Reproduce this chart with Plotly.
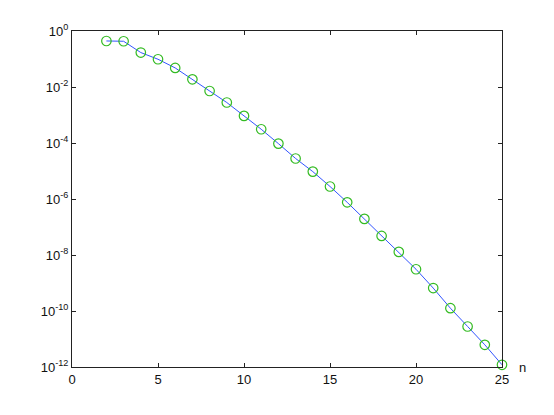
import plotly.graph_objects as go

# n and the plotted quantity
n = list(range(2, 26))
values = [
    0.44, 0.43, 0.17, 0.098, 0.048, 0.0188, 0.0072, 0.00279, 9.3e-4, 3.1e-4,
    9.5e-5, 2.8e-5, 9.5e-6, 2.8e-6, 7.6e-7, 1.95e-7, 4.8e-8, 1.29e-8,
    3.1e-9, 6.6e-10, 1.26e-10, 2.8e-11, 6.2e-12, 1.2e-12,
]

x_ticks = [0, 5, 10, 15, 20, 25]
y_ticks = [1e0, 1e-2, 1e-4, 1e-6, 1e-8, 1e-10, 1e-12]
y_ticktext = ["10<sup>0</sup>", "10<sup>-2</sup>", "10<sup>-4</sup>", "10<sup>-6</sup>",
              "10<sup>-8</sup>", "10<sup>-10</sup>", "10<sup>-12</sup>"]

fig = go.Figure()

fig.add_trace(go.Scatter(
    x=n, y=values,
    mode="lines",
    line=dict(color="#3355ff", width=1),
    hoverinfo="skip",
    cliponaxis=False,
))
fig.add_trace(go.Scatter(
    x=n, y=values,
    mode="markers",
    marker=dict(symbol="circle-open", size=9.5, color="#33bb22", line=dict(width=1.2)),
    cliponaxis=False,
))

axis_style = dict(
    showline=True, linecolor="#222222", linewidth=1, mirror="ticks",
    ticks="inside", ticklen=4, tickcolor="#222222",
    showgrid=False, zeroline=False,
    tickfont=dict(family="Liberation Sans, Arial, sans-serif", size=13, color="#111111"),
)

fig.update_xaxes(range=[0, 25], tickvals=x_ticks, **axis_style)
fig.update_yaxes(type="log", range=[-12, 0], tickvals=y_ticks, ticktext=y_ticktext, **axis_style)

fig.add_annotation(
    text="n", xref="paper", yref="paper", x=1, y=0,
    xanchor="left", yanchor="middle", xshift=15, yshift=0, showarrow=False,
    font=dict(family="Liberation Sans, Arial, sans-serif", size=13, color="#111111"),
)

# page body has an 8px margin, so the figure is a little smaller than the window
fig.update_layout(
    width=546, height=407,
    margin=dict(l=64, r=52, t=23, b=48),
    paper_bgcolor="white", plot_bgcolor="white",
    showlegend=False,
)

fig.write_html("out.html")
